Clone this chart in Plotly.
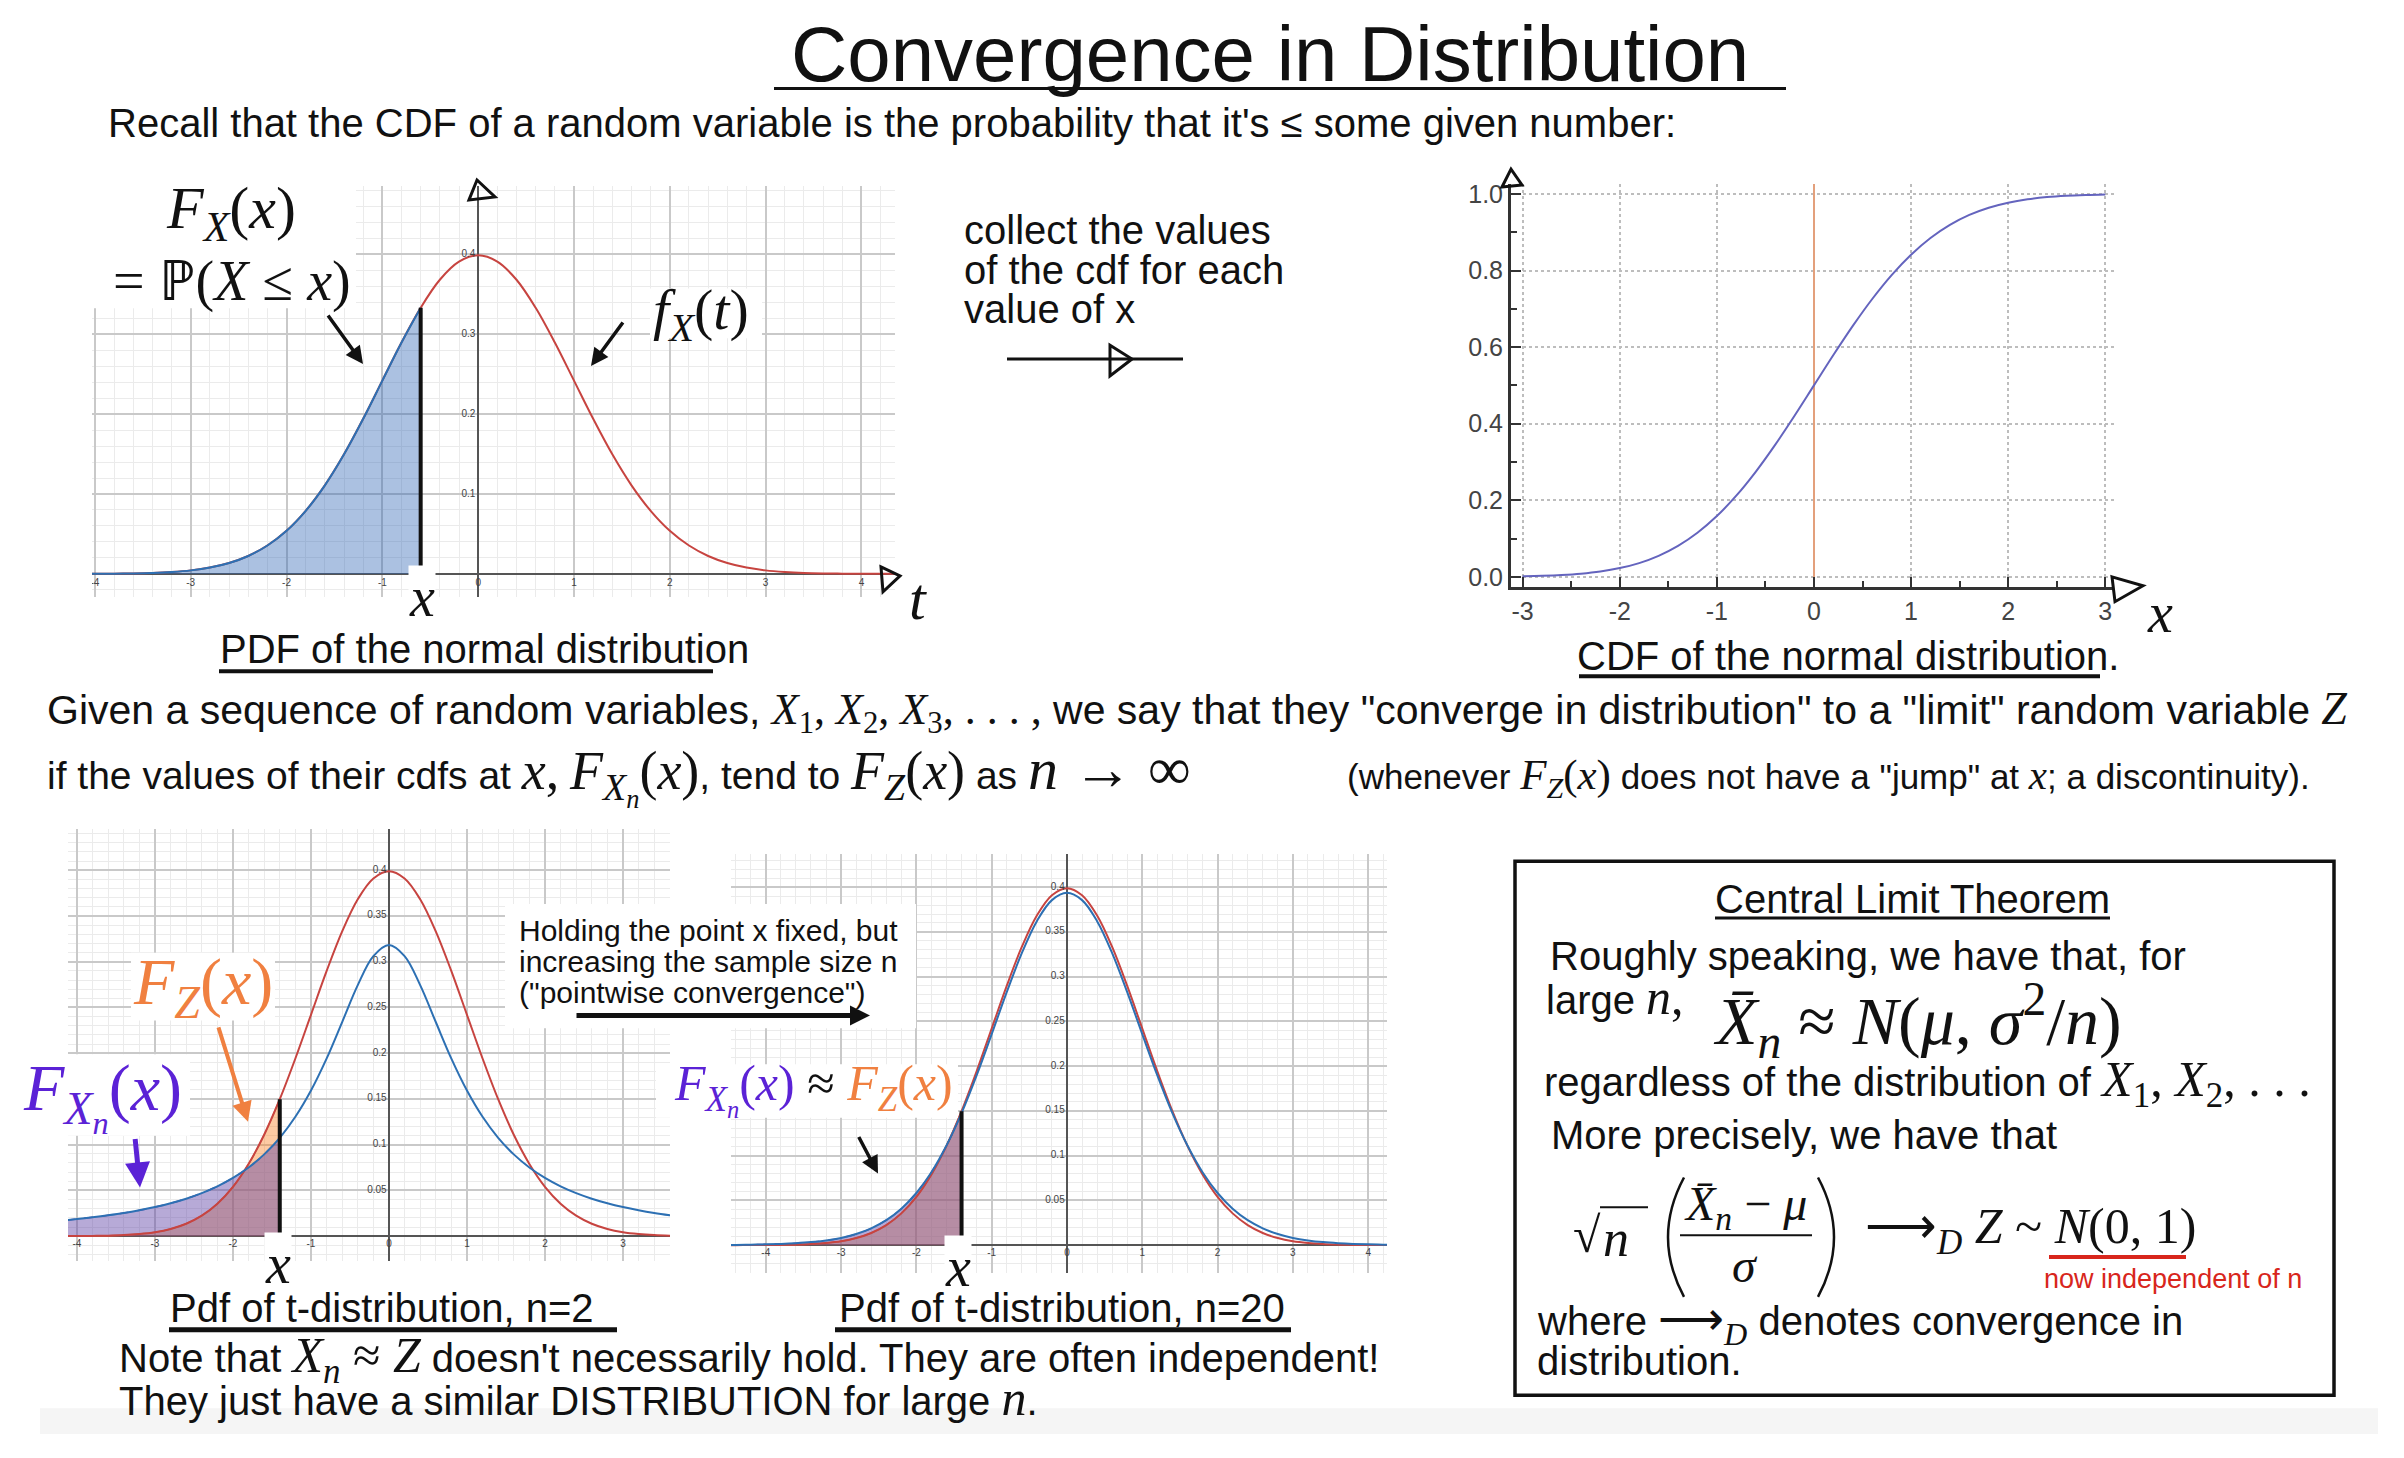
import plotly.graph_objects as go

W, H = 2404, 1458
SANS = "Liberation Sans, Arial, Helvetica, sans-serif"
SERIF_CSS = "font-family:Liberation Serif"

# ---------------- data ----------------
x_grid = [-4.6, -4.4, -4.2, -4.0, -3.8, -3.6, -3.4, -3.2, -3.0, -2.8, -2.6, -2.4,
          -2.2, -2.0, -1.8, -1.6, -1.4, -1.2, -1.0, -0.8, -0.6, -0.4, -0.2, 0.0,
          0.2, 0.4, 0.6, 0.8, 1.0, 1.2, 1.4, 1.6, 1.8, 2.0, 2.2, 2.4, 2.6, 2.8,
          3.0, 3.2, 3.4, 3.6, 3.8, 4.0, 4.2, 4.4, 4.6]
normal_pdf = [0.0000, 0.0000, 0.0001, 0.0001, 0.0003, 0.0006, 0.0012, 0.0024, 0.0044,
              0.0079, 0.0136, 0.0224, 0.0355, 0.0540, 0.0790, 0.1109, 0.1497, 0.1942,
              0.2420, 0.2897, 0.3332, 0.3683, 0.3910, 0.3989, 0.3910, 0.3683, 0.3332,
              0.2897, 0.2420, 0.1942, 0.1497, 0.1109, 0.0790, 0.0540, 0.0355, 0.0224,
              0.0136, 0.0079, 0.0044, 0.0024, 0.0012, 0.0006, 0.0003, 0.0001, 0.0001,
              0.0000, 0.0000]
t_small_n_pdf = [0.0144, 0.0156, 0.0171, 0.0187, 0.0206, 0.0228, 0.0253, 0.0283, 0.0318,
                 0.0360, 0.0410, 0.0471, 0.0545, 0.0637, 0.0751, 0.0894, 0.1075, 0.1305,
                 0.1592, 0.1941, 0.2341, 0.2744, 0.3061, 0.3183, 0.3061, 0.2744, 0.2341,
                 0.1941, 0.1592, 0.1305, 0.1075, 0.0894, 0.0751, 0.0637, 0.0545, 0.0471,
                 0.0410, 0.0360, 0.0318, 0.0283, 0.0253, 0.0228, 0.0206, 0.0187, 0.0171,
                 0.0156, 0.0144]
t_large_n_pdf = [0.0002, 0.0003, 0.0006, 0.0009, 0.0014, 0.0022, 0.0034, 0.0053, 0.0081,
                 0.0124, 0.0188, 0.0279, 0.0407, 0.0583, 0.0815, 0.1113, 0.1475, 0.1896,
                 0.2357, 0.2827, 0.3263, 0.3620, 0.3855, 0.3937, 0.3855, 0.3620, 0.3263,
                 0.2827, 0.2357, 0.1896, 0.1475, 0.1113, 0.0815, 0.0583, 0.0407, 0.0279,
                 0.0188, 0.0124, 0.0081, 0.0053, 0.0034, 0.0022, 0.0014, 0.0009, 0.0006,
                 0.0003, 0.0002]
cdf_x = [-3.0, -2.8, -2.6, -2.4, -2.2, -2.0, -1.8, -1.6, -1.4, -1.2, -1.0, -0.8, -0.6,
         -0.4, -0.2, 0.0, 0.2, 0.4, 0.6, 0.8, 1.0, 1.2, 1.4, 1.6, 1.8, 2.0, 2.2, 2.4,
         2.6, 2.8, 3.0]
cdf_vals = [0.0013, 0.0026, 0.0047, 0.0082, 0.0139, 0.0228, 0.0359, 0.0548, 0.0808,
            0.1151, 0.1587, 0.2119, 0.2743, 0.3446, 0.4207, 0.5000, 0.5793, 0.6554,
            0.7257, 0.7881, 0.8413, 0.8849, 0.9192, 0.9452, 0.9641, 0.9772, 0.9861,
            0.9918, 0.9953, 0.9974, 0.9987]
x_mark_top = -0.6
x_mark_bottom = -1.4

tl_xticks = [-4, -3, -2, -1, 0, 1, 2, 3, 4]
tl_yticks = [0.1, 0.2, 0.3, 0.4]
bl_xticks = [-4, -3, -2, -1, 0, 1, 2, 3]
bm_xticks = [-4, -3, -2, -1, 0, 1, 2, 3, 4]
b_yticks = [0.05, 0.1, 0.15, 0.2, 0.25, 0.3, 0.35, 0.4]
cdf_xticks = [-3, -2, -1, 0, 1, 2, 3]
cdf_yticks = [0.0, 0.2, 0.4, 0.6, 0.8, 1.0]

RED = "#c74440"
BLUE = "#2d70b3"
PURPLE = "#5b22d6"
ORANGE = "#f08040"


def fx(p):
    return p / W


def fy(p):
    return 1 - p / H


def S(inner, extra=""):
    return f'<span style="{SERIF_CSS}{extra}">{inner}</span>'


fig = go.Figure()

i_top = x_grid.index(x_mark_top)
i_bot = x_grid.index(x_mark_bottom)
TICKFONT = dict(size=10, color="#444", family=SANS)

# ---------- top-left: normal pdf ----------
fig.add_trace(go.Scatter(x=x_grid, y=normal_pdf, mode="lines", line=dict(color=RED, width=2, shape="spline"),
                         xaxis="x", yaxis="y", hoverinfo="skip"))
fig.add_trace(go.Scatter(x=x_grid[:i_top + 1], y=normal_pdf[:i_top + 1], mode="lines", fill="tozeroy",
                         fillcolor="rgba(45,100,179,0.40)", line=dict(color=BLUE, width=2, shape="spline"),
                         xaxis="x", yaxis="y", hoverinfo="skip"))
fig.add_trace(go.Scatter(x=[x_mark_top, x_mark_top], y=[0, normal_pdf[i_top]], mode="lines",
                         line=dict(color="#111", width=4), xaxis="x", yaxis="y", hoverinfo="skip"))
fig.add_trace(go.Scatter(x=tl_xticks, y=[-0.006] * len(tl_xticks), mode="text", text=[str(v) for v in tl_xticks],
                         textposition="bottom center", textfont=TICKFONT, xaxis="x", yaxis="y", hoverinfo="skip"))
fig.add_trace(go.Scatter(x=[-0.03] * len(tl_yticks), y=tl_yticks, mode="text", text=[str(v) for v in tl_yticks],
                         textposition="middle left", textfont=TICKFONT, xaxis="x", yaxis="y", hoverinfo="skip"))

# ---------- top-right: normal cdf ----------
fig.add_trace(go.Scatter(x=cdf_x, y=cdf_vals, mode="lines", line=dict(color="#6464be", width=2, shape="spline"),
                         xaxis="x2", yaxis="y2", hoverinfo="skip"))

# ---------- bottom panels ----------
for xa, ya, tpdf, xt in (("x3", "y3", t_small_n_pdf, bl_xticks), ("x4", "y4", t_large_n_pdf, bm_xticks)):
    fig.add_trace(go.Scatter(x=x_grid[:i_bot + 1], y=normal_pdf[:i_bot + 1], mode="lines", fill="tozeroy",
                             fillcolor="rgba(250,126,25,0.40)", line=dict(color=ORANGE, width=1.5, shape="spline"),
                             xaxis=xa, yaxis=ya, hoverinfo="skip"))
    fig.add_trace(go.Scatter(x=x_grid[:i_bot + 1], y=tpdf[:i_bot + 1], mode="lines", fill="tozeroy",
                             fillcolor="rgba(96,66,166,0.45)",
                             line=dict(color="#6042a6", width=1.5, shape="spline", dash="dash"),
                             xaxis=xa, yaxis=ya, hoverinfo="skip"))
    fig.add_trace(go.Scatter(x=x_grid, y=normal_pdf, mode="lines", line=dict(color=RED, width=2, shape="spline"),
                             xaxis=xa, yaxis=ya, hoverinfo="skip"))
    fig.add_trace(go.Scatter(x=x_grid, y=tpdf, mode="lines", line=dict(color=BLUE, width=2, shape="spline"),
                             xaxis=xa, yaxis=ya, hoverinfo="skip"))
    fig.add_trace(go.Scatter(x=[x_mark_bottom, x_mark_bottom], y=[0, normal_pdf[i_bot]], mode="lines",
                             line=dict(color="#111", width=4), xaxis=xa, yaxis=ya, hoverinfo="skip"))
    fig.add_trace(go.Scatter(x=xt, y=[-0.004] * len(xt), mode="text", text=[str(v) for v in xt],
                             textposition="bottom center", textfont=TICKFONT, xaxis=xa, yaxis=ya, hoverinfo="skip"))
    fig.add_trace(go.Scatter(x=[-0.03] * len(b_yticks), y=b_yticks, mode="text", text=[f"{v:g}" for v in b_yticks],
                             textposition="middle left", textfont=TICKFONT, xaxis=xa, yaxis=ya, hoverinfo="skip"))


def desmos(px0, px1, py0, py1, xr, yr, ydt, yminor):
    xa = dict(domain=[fx(px0), fx(px1)], range=xr, dtick=1, tick0=0, showgrid=True, gridcolor="#c9c9c9",
              gridwidth=1.5, minor=dict(dtick=0.2, showgrid=True, gridcolor="#ebebeb", gridwidth=1),
              zeroline=True, zerolinecolor="#555", zerolinewidth=1.5, showticklabels=False, ticks="",
              showline=False)
    ya = dict(domain=[fy(py1), fy(py0)], range=yr, dtick=ydt, tick0=0, showgrid=True, gridcolor="#c9c9c9",
              gridwidth=1.5, minor=dict(dtick=yminor, showgrid=True, gridcolor="#ebebeb", gridwidth=1),
              zeroline=True, zerolinecolor="#555", zerolinewidth=1.5, showticklabels=False, ticks="",
              showline=False)
    return xa, ya


xa1, ya1 = desmos(92, 895, 183, 596, [-4.03, 4.35], [-0.0286, 0.4857], 0.1, 0.02)
xa3, ya3 = desmos(68, 670, 830, 1264, [-4.115, 3.603], [-0.0272, 0.4446], 0.05, 0.01)
xa4, ya4 = desmos(731, 1387, 855, 1276, [-4.462, 4.25], [-0.0311, 0.4367], 0.05, 0.01)
xa1["anchor"] = "y"; ya1["anchor"] = "x"
xa3["anchor"] = "y3"; ya3["anchor"] = "x3"
xa4["anchor"] = "y4"; ya4["anchor"] = "x4"

xa2 = dict(domain=[fx(1511), fx(2114)], range=[-3.12, 3.09], anchor="y2",
           tickvals=cdf_xticks, ticktext=[str(v) for v in cdf_xticks],
           showgrid=True, gridcolor="#bdbdbd", griddash="dot", gridwidth=1.5,
           zeroline=True, zerolinecolor="#e3a07c", zerolinewidth=1.5,
           showline=True, linecolor="#333", linewidth=3, ticks="inside", ticklen=10, tickwidth=2, tickcolor="#333",
           minor=dict(ticks="inside", ticklen=6, dtick=0.5, tickcolor="#333", tickwidth=1.5),
           tickfont=dict(size=25, color="#444", family=SANS))
ya2 = dict(domain=[fy(586), fy(181)], range=[-0.026, 1.026], anchor="x2",
           tickvals=cdf_yticks, ticktext=[f"{v:.1f}" for v in cdf_yticks],
           showgrid=True, gridcolor="#bdbdbd", griddash="dot", gridwidth=1.5, zeroline=False,
           showline=True, linecolor="#333", linewidth=3, ticks="inside", ticklen=10, tickwidth=2, tickcolor="#333",
           minor=dict(ticks="inside", ticklen=6, dtick=0.1, tickcolor="#333", tickwidth=1.5),
           tickfont=dict(size=25, color="#444", family=SANS))

anns = []


def txt(s, x, y, size, color="#111", xanchor="left", yanchor="middle", family=SANS, bg=None):
    d = dict(text=s, x=fx(x), y=fy(y), xref="paper", yref="paper", showarrow=False,
             font=dict(size=size, color=color, family=family), xanchor=xanchor, yanchor=yanchor, borderpad=0)
    if bg:
        d["bgcolor"] = bg
    anns.append(d)


def arrow(tail, tip, color="#111", width=3.5, head=2, size=1.0):
    anns.append(dict(text="", x=fx(tip[0]), y=fy(tip[1]), xref="paper", yref="paper", showarrow=True,
                     ax=tail[0] - tip[0], ay=tail[1] - tip[1], axref="pixel", ayref="pixel",
                     arrowcolor=color, arrowwidth=width, arrowhead=head, arrowsize=size))


shapes = []


def line(x0, y0, x1, y1, color="#111", width=3):
    shapes.append(dict(type="line", xref="paper", yref="paper", x0=fx(x0), y0=fy(y0), x1=fx(x1), y1=fy(y1),
                       line=dict(color=color, width=width), layer="above"))


def white(x0, y0, x1, y1):
    shapes.append(dict(type="rect", xref="paper", yref="paper", x0=fx(x0), y0=fy(y0), x1=fx(x1), y1=fy(y1),
                       fillcolor="white", line=dict(width=0), layer="above"))


def path(points, color="#111", width=3, closed=True):
    d = "M " + " L ".join(f"{fx(px):.5f},{fy(py):.5f}" for px, py in points)
    if closed:
        d += " Z"
    shapes.append(dict(type="path", xref="paper", yref="paper", path=d, line=dict(color=color, width=width),
                       layer="above"))


def paren(x_end, x_mid, y0, y1, width=2.5):
    d = (f"M {fx(x_end):.5f},{fy(y0):.5f} Q {fx(x_mid):.5f},{fy((y0 + y1) / 2):.5f} "
         f"{fx(x_end):.5f},{fy(y1):.5f}")
    shapes.append(dict(type="path", xref="paper", yref="paper", path=d, line=dict(color="#111", width=width),
                       layer="above"))


# title + intro
txt("Convergence in Distribution", 1270, 50, 78, xanchor="center")
line(774, 85, 1786, 85, width=3)
txt("Recall that the CDF of a random variable is the probability that it's ≤ some given number:", 107, 120, 40)

# top-left labels
white(92, 183, 356, 306)
white(650, 286, 762, 336)
txt(S("<i>F</i><sub><i>X</i></sub>(<i>x</i>)"), 165, 210, 60)
txt(S("= ℙ(<i>X</i> ≤ <i>x</i>)"), 112, 279, 56)
txt(S("<i>f</i><sub><i>X</i></sub>(<i>t</i>)"), 652, 311, 58)
txt(S("<i>x</i>"), 422, 596, 56, xanchor="center", bg="white")
txt(S("<i>t</i>"), 918, 598, 60, xanchor="center")
arrow((327, 312), (363, 362))
arrow((624, 319), (591, 364))
path([(469, 197), (477, 177), (495, 194)])
path([(881, 566), (900, 575), (883, 591)])
txt("PDF of the normal distribution", 219, 649, 40)
line(219, 671, 713, 671, width=4)

# middle arrow text
txt("collect the values", 963, 227, 40)
txt("of the cdf for each", 963, 267, 40)
txt("value of x", 963, 307, 40)
line(1007, 357, 1183, 357, width=3)
path([(1110, 343), (1110, 374), (1132, 357)])

# CDF panel
path([(1502, 184), (1511, 166), (1522, 182)])
path([(2112, 576), (2143, 585), (2115, 601)])
txt(S("<i>x</i>"), 2160, 612, 56, xanchor="center")
txt("CDF of the normal distribution.", 1576, 656, 40)
line(1579, 676, 2100, 676, width=4)

# middle statement
X123 = S("<i>X</i><sub>1</sub>, <i>X</i><sub>2</sub>, <i>X</i><sub>3</sub>, . . . ,", ";font-size:44px")
txt('Given a sequence of random variables, ' + X123
    + ' we say that they "converge in distribution" to a "limit" random variable '
    + S("<i>Z</i>", ";font-size:46px"), 46, 711, 41)
line2 = ("if the values of their cdfs at " + S("<i>x</i>,", ";font-size:54px") + " "
         + S("<i>F</i><sub><i>X</i><sub><i>n</i></sub></sub>(<i>x</i>)", ";font-size:54px") + ", tend to "
         + S("<i>F</i><sub><i>Z</i></sub>(<i>x</i>)", ";font-size:54px") + " as "
         + S("<i>n</i> → ∞", ";font-size:60px"))
txt(line2, 46, 775, 39)
txt("(whenever " + S("<i>F</i><sub><i>Z</i></sub>(<i>x</i>)", ";font-size:43px")
    + ' does not have a "jump" at ' + S("<i>x</i>", ";font-size:41px") + "; a discontinuity).", 1346, 778, 35)

# bottom-left labels
white(131, 954, 275, 1022)
white(0, 1056, 190, 1138)
white(505, 905, 916, 1030)
white(656, 1066, 958, 1120)
txt(S("<i>F</i><sub><i>Z</i></sub>(<i>x</i>)"), 132, 988, 66, color=ORANGE)
txt(S("<i>F</i><sub><i>X</i><sub><i>n</i></sub></sub>(<i>x</i>)"), 22, 1098, 66, color=PURPLE)
arrow((218, 1028), (248, 1124), color=ORANGE, width=4)
arrow((135, 1140), (140, 1190), color=PURPLE, width=5)
txt(S("<i>x</i>"), 278, 1267, 56, xanchor="center", bg="white")
txt("Holding the point x fixed, but", 518, 932, 30)
txt("increasing the sample size n", 518, 963, 30)
txt('("pointwise convergence")', 518, 994, 30)
arrow((575, 1017), (870, 1017), width=5, head=2, size=0.8)
txt("Pdf of t-distribution, n=2", 169, 1311, 40)
line(169, 1333, 617, 1333, width=5)

# bottom-middle labels
txt(S("<i>F</i><sub><i>X</i><sub><i>n</i></sub></sub>(<i>x</i>)", ";color:" + PURPLE) + S(" ≈ ")
    + S("<i>F</i><sub><i>Z</i></sub>(<i>x</i>)", ";color:" + ORANGE), 673, 1091, 50)
arrow((858, 1138), (878, 1176))
txt(S("<i>x</i>"), 958, 1270, 56, xanchor="center", bg="white")
txt("Pdf of t-distribution, n=20", 838, 1311, 40)
line(835, 1333, 1291, 1333, width=5)

# note
txt("Note that " + S("<i>X</i><sub><i>n</i></sub> ≈ <i>Z</i>", ";font-size:50px")
    + " doesn't necessarily hold. They are often independent!", 118, 1362, 40)
txt("They just have a similar DISTRIBUTION for large " + S("<i>n</i>", ";font-size:50px") + ".", 118, 1402, 40)

# bottom strip
shapes.append(dict(type="rect", xref="paper", yref="paper", x0=fx(40), y0=fy(1438), x1=fx(2378), y1=fy(1412),
                   fillcolor="#f5f5f5", line=dict(width=0), layer="below"))

# CLT box
shapes.append(dict(type="rect", xref="paper", yref="paper", x0=fx(1515), y0=fy(1399), x1=fx(2334), y1=fy(862),
                   line=dict(color="#111", width=3.5), fillcolor="rgba(0,0,0,0)", layer="above"))
txt("Central Limit Theorem", 1912, 900, 40, xanchor="center")
line(1715, 919, 2110, 919, width=3)
txt("Roughly speaking, we have that, for", 1549, 957, 40)
txt("large " + S("<i>n</i>,", ";font-size:50px"), 1545, 998, 40)
txt(S("<i>X̄</i><sub><i>n</i></sub> ≈ <i>N</i>(<i>μ</i>, <i>σ</i><sup>2</sup>/<i>n</i>)"), 1712, 1022, 68)
txt("regardless of the distribution of " + S("<i>X</i><sub>1</sub>, <i>X</i><sub>2</sub>, . . .", ";font-size:50px"),
    1543, 1085, 40)
txt("More precisely, we have that", 1550, 1137, 40)
txt(S("√"), 1572, 1238, 50)
txt(S("<i>n</i>"), 1602, 1241, 52)
line(1600, 1210, 1648, 1210, width=2)
paren(1684, 1652, 1180, 1300)
paren(1818, 1850, 1180, 1300)
txt(S("<i>X̄</i><sub><i>n</i></sub> − <i>μ</i>"), 1745, 1210, 48, xanchor="center")
line(1680, 1238, 1812, 1238, width=2)
txt(S("<i>σ</i>"), 1745, 1268, 48, xanchor="center")
txt(S("⟶<sub><i>D</i></sub> <i>Z</i> ~ <i>N</i>(0, 1)"), 1864, 1233, 50)
line(2049, 1260, 2186, 1260, color="#d8261c", width=4)
txt("now independent of n", 2043, 1282, 27, color="#d8261c")
txt("where " + S("⟶<sub><i>D</i></sub>", ";font-size:46px") + " denotes convergence in", 1536, 1326, 40)
txt("distribution.", 1536, 1364, 40)

fig.update_layout(
    width=W, height=H, margin=dict(l=0, r=0, t=0, b=0), showlegend=False,
    paper_bgcolor="white", plot_bgcolor="rgba(0,0,0,0)",
    xaxis=xa1, yaxis=ya1, xaxis2=xa2, yaxis2=ya2, xaxis3=xa3, yaxis3=ya3, xaxis4=xa4, yaxis4=ya4,
    annotations=anns, shapes=shapes, font=dict(family=SANS),
)

fig.write_html("out.html")
